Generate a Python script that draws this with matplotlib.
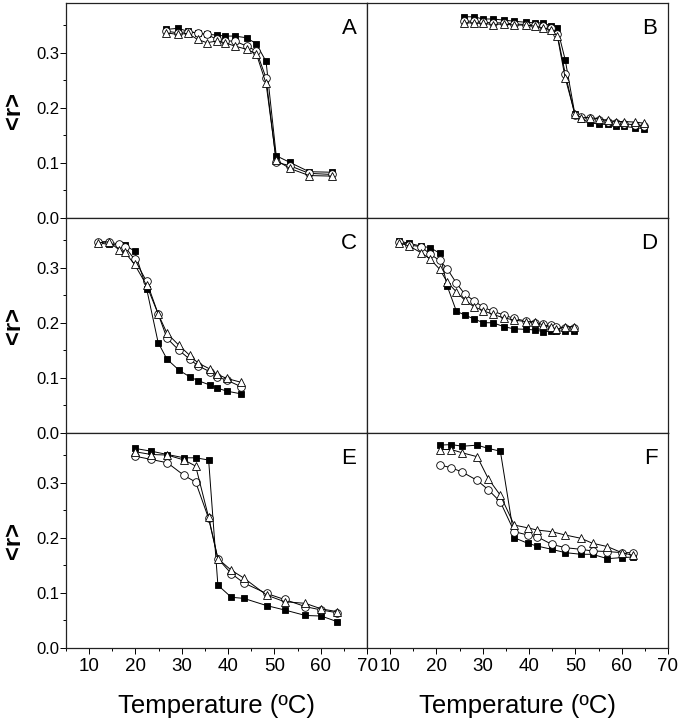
import matplotlib
matplotlib.use('Agg')
import matplotlib.pyplot as plt
from matplotlib.ticker import MultipleLocator

plt.rcParams['font.family'] = ['Liberation Sans', 'DejaVu Sans']

# ---- panel A ----
tA = [26.5, 29.1, 31.3, 33.4, 35.4, 37.6, 39.3, 41.4, 44.0, 46.1, 48.2, 50.4, 53.3, 57.5, 62.4]
sqA = [0.342, 0.344, 0.339, 0.335, 0.333, 0.332, 0.330, 0.330, 0.327, 0.316, 0.284, 0.113, 0.101, 0.084, 0.083]
ciA = [0.339, 0.336, 0.338, 0.336, 0.333, 0.324, 0.321, 0.321, 0.312, 0.303, 0.254, 0.101, 0.095, 0.081, 0.079]
trA = [0.336, 0.333, 0.335, 0.324, 0.318, 0.321, 0.318, 0.312, 0.306, 0.298, 0.244, 0.105, 0.090, 0.077, 0.076]

# ---- panel B ----
tB = [26.0, 28.1, 30.0, 32.2, 34.5, 36.7, 39.3, 41.2, 43.0, 44.8, 46.1, 47.8, 49.9, 51.3, 53.1,
      55.2, 57.0, 58.7, 60.5, 62.8, 64.9]
sqB = [0.365, 0.365, 0.361, 0.361, 0.359, 0.357, 0.355, 0.354, 0.354, 0.348, 0.344, 0.287, 0.188,
       0.180, 0.173, 0.170, 0.170, 0.167, 0.166, 0.164, 0.162]
ciB = [0.357, 0.357, 0.355, 0.354, 0.354, 0.352, 0.351, 0.350, 0.348, 0.344, 0.333, 0.262, 0.186,
       0.183, 0.182, 0.178, 0.175, 0.172, 0.171, 0.169, 0.167]
trB = [0.354, 0.354, 0.353, 0.351, 0.352, 0.350, 0.350, 0.348, 0.345, 0.341, 0.330, 0.254, 0.189,
       0.182, 0.182, 0.180, 0.177, 0.175, 0.175, 0.174, 0.172]

# ---- panel C ----
tC_sq = [12.0, 14.3, 17.7, 19.8, 22.4, 24.9, 26.8, 29.4, 31.7, 33.5, 36.1, 37.5, 39.7, 42.8]
sqC = [0.345, 0.342, 0.341, 0.330, 0.262, 0.164, 0.134, 0.114, 0.102, 0.095, 0.087, 0.082, 0.076, 0.071]
tC = [12.0, 14.3, 16.5, 17.7, 19.8, 22.4, 24.9, 26.8, 29.4, 31.7, 33.5, 36.1, 37.5, 39.7, 42.8]
ciC = [0.347, 0.347, 0.342, 0.338, 0.315, 0.275, 0.216, 0.172, 0.150, 0.134, 0.122, 0.111, 0.102, 0.096, 0.084]
trC = [0.345, 0.347, 0.332, 0.328, 0.306, 0.268, 0.216, 0.181, 0.159, 0.141, 0.127, 0.116, 0.107, 0.099, 0.092]

# ---- panel D ----
tD = [12.0, 14.1, 16.7, 18.7, 20.7, 22.3, 24.3, 26.1, 28.1, 30.1, 32.2, 34.5, 36.7, 39.3, 41.2,
      43.0, 44.8, 45.9, 47.8, 49.8]
sqD = [0.348, 0.344, 0.339, 0.336, 0.326, 0.267, 0.221, 0.214, 0.207, 0.200, 0.200, 0.193, 0.189,
       0.188, 0.187, 0.184, 0.185, 0.185, 0.185, 0.185]
ciD = [0.347, 0.341, 0.338, 0.324, 0.313, 0.298, 0.272, 0.252, 0.240, 0.228, 0.221, 0.214, 0.208,
       0.203, 0.199, 0.197, 0.196, 0.193, 0.191, 0.191]
trD = [0.345, 0.339, 0.327, 0.315, 0.297, 0.274, 0.256, 0.241, 0.229, 0.222, 0.215, 0.209, 0.205,
       0.202, 0.202, 0.196, 0.193, 0.188, 0.193, 0.193]

# ---- panel E ----
tE = [19.9, 23.4, 26.9, 30.5, 33.0, 35.8, 37.8, 40.7, 43.4, 48.3, 52.2, 56.7, 60.1, 63.5]
sqE = [0.362, 0.357, 0.351, 0.345, 0.345, 0.341, 0.114, 0.092, 0.090, 0.077, 0.069, 0.059, 0.058, 0.048]
ciE = [0.348, 0.342, 0.336, 0.313, 0.301, 0.235, 0.162, 0.135, 0.118, 0.099, 0.088, 0.075, 0.069, 0.064]
trE = [0.356, 0.351, 0.350, 0.341, 0.330, 0.237, 0.162, 0.141, 0.127, 0.096, 0.084, 0.081, 0.071, 0.066]

# ---- panel F ----
tF = [20.7, 23.2, 25.6, 28.8, 31.2, 33.8, 36.8, 39.7, 41.7, 44.9, 47.8, 51.2, 53.7, 56.9, 60.0, 62.5]
sqF = [0.368, 0.369, 0.366, 0.368, 0.362, 0.357, 0.200, 0.190, 0.185, 0.179, 0.173, 0.170, 0.170,
       0.162, 0.164, 0.165]
ciF = [0.332, 0.327, 0.319, 0.304, 0.287, 0.265, 0.211, 0.205, 0.202, 0.188, 0.182, 0.179, 0.176,
       0.175, 0.173, 0.173]
trF = [0.360, 0.360, 0.354, 0.347, 0.307, 0.277, 0.223, 0.218, 0.214, 0.211, 0.205, 0.199, 0.190,
       0.184, 0.173, 0.168]

panels = [
    ('A', tA, sqA, tA, ciA, trA),
    ('B', tB, sqB, tB, ciB, trB),
    ('C', tC_sq, sqC, tC, ciC, trC),
    ('D', tD, sqD, tD, ciD, trD),
    ('E', tE, sqE, tE, ciE, trE),
    ('F', tF, sqF, tF, ciF, trF),
]

W, H = 678, 720
fig = plt.figure(figsize=(W / 100, H / 100), dpi=100)

lefts = [66, 367]
tops = [3, 218, 433]
pw, ph = 301, 215

for i, (letter, tsq, sq, t2, ci, tr) in enumerate(panels):
    row, col = divmod(i, 2)
    ax = fig.add_axes([lefts[col] / W, 1 - (tops[row] + ph) / H, pw / W, ph / H])
    lw = 0.7
    ax.plot(tsq, sq, '-s', color='black', lw=lw, ms=5, mfc='black', mec='black', mew=0.6)
    ax.plot(t2, ci, '-o', color='black', lw=lw, ms=5.5, mfc='white', mec='black', mew=0.6)
    ax.plot(t2, tr, '-^', color='black', lw=lw, ms=6, mfc='white', mec='black', mew=0.6)
    ax.set_xlim(5, 70)
    ax.set_ylim(0, 0.39)
    ax.xaxis.set_major_locator(MultipleLocator(10))
    ax.xaxis.set_minor_locator(MultipleLocator(5))
    ax.yaxis.set_major_locator(MultipleLocator(0.1))
    ax.yaxis.set_minor_locator(MultipleLocator(0.05))
    for s in ax.spines.values():
        s.set_linewidth(0.9)
        s.set_color('#222222')
    ax.tick_params(which='both', direction='out', top=False, right=False, width=0.7)
    ax.tick_params(which='major', length=4)
    ax.tick_params(which='minor', length=2.5)
    if col == 0:
        ax.tick_params(axis='y', labelsize=12, pad=1)
        ax.set_yticklabels(['%.1f' % v for v in ax.get_yticks()])
        ax.set_ylabel('<r>', fontsize=17, fontweight='bold', labelpad=8)
    else:
        ax.tick_params(axis='y', which='both', left=False, labelleft=False)
    if row == 2:
        ax.tick_params(axis='x', labelsize=13.5, pad=3)
        ax.set_xlabel('Temperature (ºC)', fontsize=18.5, labelpad=14)
    else:
        ax.tick_params(axis='x', which='both', bottom=False, labelbottom=False)
    ax.text(0.965, 0.93, letter, transform=ax.transAxes, ha='right', va='top', fontsize=16)

fig.savefig('out.png', dpi=100)
